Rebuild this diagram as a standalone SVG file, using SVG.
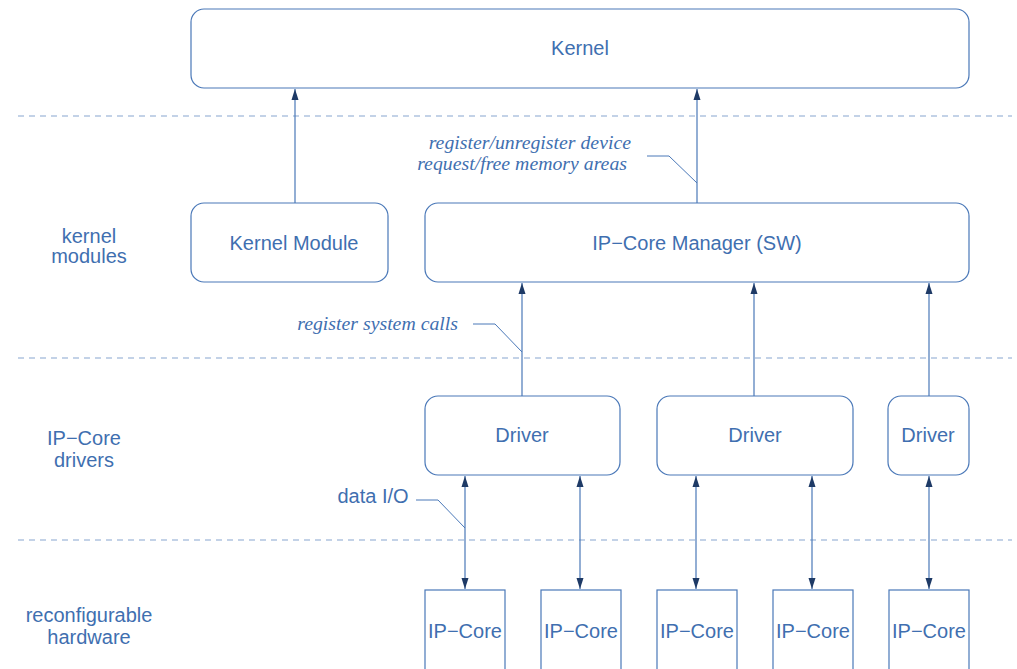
<svg xmlns="http://www.w3.org/2000/svg" width="1017" height="669" viewBox="0 0 1017 669">
  <defs>
    <style>
      .box { fill: #ffffff; stroke: #4a78b8; stroke-width: 1.2; }
      .lbl { font-family: "Liberation Sans", Arial, sans-serif; font-size: 20px; fill: #3f6fb0; text-anchor: middle; }
      .note { font-family: "Liberation Serif", "Times New Roman", serif; font-style: italic; font-size: 19.8px; fill: #3f6fb0; }
      .sep { stroke: #88a6d0; stroke-width: 1.2; stroke-dasharray: 6 5; fill: none; }
      .wire { stroke: #4a78b8; stroke-width: 1.2; fill: none; }
      .lead { stroke: #4a78b8; stroke-width: 1; fill: none; }
    </style>
    <marker id="head" viewBox="0 0 10 10" refX="10" refY="5" markerWidth="11" markerHeight="11" markerUnits="userSpaceOnUse" orient="auto-start-reverse">
      <path d="M0,1.8 L10,5 L0,8.2 z" fill="#1e3a66"/>
    </marker>
  </defs>

  <!-- layer separators -->
  <g id="separators">
    <line class="sep" x1="18" y1="116" x2="1012" y2="116"/>
    <line class="sep" x1="18" y1="358" x2="1012" y2="358"/>
    <line class="sep" x1="18" y1="540" x2="1012" y2="540"/>
  </g>

  <!-- layer captions -->
  <g id="layer-labels">
    <text class="lbl" x="89" y="243">kernel</text>
    <text class="lbl" x="89" y="263">modules</text>
    <text class="lbl" x="84" y="445">IP−Core</text>
    <text class="lbl" x="84" y="467">drivers</text>
    <text class="lbl" x="89" y="622">reconfigurable</text>
    <text class="lbl" x="89" y="644">hardware</text>
  </g>

  <g id="connectors">
    <!-- up to kernel -->
    <line class="wire" x1="295" y1="203" x2="295" y2="89" marker-end="url(#head)"/>
    <line class="wire" x1="697" y1="203" x2="697" y2="89" marker-end="url(#head)"/>
    <!-- drivers to manager -->
    <line class="wire" x1="522" y1="396" x2="522" y2="283" marker-end="url(#head)"/>
    <line class="wire" x1="754" y1="396" x2="754" y2="283" marker-end="url(#head)"/>
    <line class="wire" x1="929" y1="396" x2="929" y2="283" marker-end="url(#head)"/>
    <!-- data I/O between drivers and cores -->
    <line class="wire" x1="465" y1="476" x2="465" y2="589" marker-start="url(#head)" marker-end="url(#head)"/>
    <line class="wire" x1="580" y1="476" x2="580" y2="589" marker-start="url(#head)" marker-end="url(#head)"/>
    <line class="wire" x1="696" y1="476" x2="696" y2="589" marker-start="url(#head)" marker-end="url(#head)"/>
    <line class="wire" x1="812" y1="476" x2="812" y2="589" marker-start="url(#head)" marker-end="url(#head)"/>
    <line class="wire" x1="929" y1="476" x2="929" y2="589" marker-start="url(#head)" marker-end="url(#head)"/>
    <!-- callout leaders -->
    <polyline class="lead" points="647,156 669,156 697,183"/>
    <polyline class="lead" points="473,324 495,324 522,352"/>
    <polyline class="lead" points="416,500 438,500 465,528"/>
  </g>

  <g id="annotations">
    <text class="note" x="631" y="149" text-anchor="end">register/unregister device</text>
    <text class="note" x="627" y="170" text-anchor="end">request/free memory areas</text>
    <text class="note" x="458" y="330" text-anchor="end">register system calls</text>
    <text class="lbl" x="373" y="503">data I/O</text>
  </g>

  <g id="kernel">
    <rect class="box" x="191" y="9" width="778" height="79" rx="13"/>
    <text class="lbl" x="580" y="55">Kernel</text>
  </g>

  <g id="kernel-module">
    <rect class="box" x="191" y="203" width="197" height="79" rx="13"/>
    <text class="lbl" x="294" y="250">Kernel Module</text>
  </g>

  <g id="ipcore-manager">
    <rect class="box" x="425" y="203" width="544" height="79" rx="13"/>
    <text class="lbl" x="697" y="250">IP−Core Manager (SW)</text>
  </g>

  <g id="driver-1">
    <rect class="box" x="425" y="396" width="195" height="79" rx="13"/>
    <text class="lbl" x="522" y="442">Driver</text>
  </g>
  <g id="driver-2">
    <rect class="box" x="657" y="396" width="196" height="79" rx="13"/>
    <text class="lbl" x="755" y="442">Driver</text>
  </g>
  <g id="driver-3">
    <rect class="box" x="888" y="396" width="81" height="79" rx="13"/>
    <text class="lbl" x="928" y="442">Driver</text>
  </g>

  <g id="ipcore-1">
    <rect class="box" x="425" y="590" width="80" height="90"/>
    <text class="lbl" x="465" y="638">IP−Core</text>
  </g>
  <g id="ipcore-2">
    <rect class="box" x="541" y="590" width="80" height="90"/>
    <text class="lbl" x="581" y="638">IP−Core</text>
  </g>
  <g id="ipcore-3">
    <rect class="box" x="657" y="590" width="80" height="90"/>
    <text class="lbl" x="697" y="638">IP−Core</text>
  </g>
  <g id="ipcore-4">
    <rect class="box" x="773" y="590" width="80" height="90"/>
    <text class="lbl" x="813" y="638">IP−Core</text>
  </g>
  <g id="ipcore-5">
    <rect class="box" x="889" y="590" width="80" height="90"/>
    <text class="lbl" x="929" y="638">IP−Core</text>
  </g>
</svg>
